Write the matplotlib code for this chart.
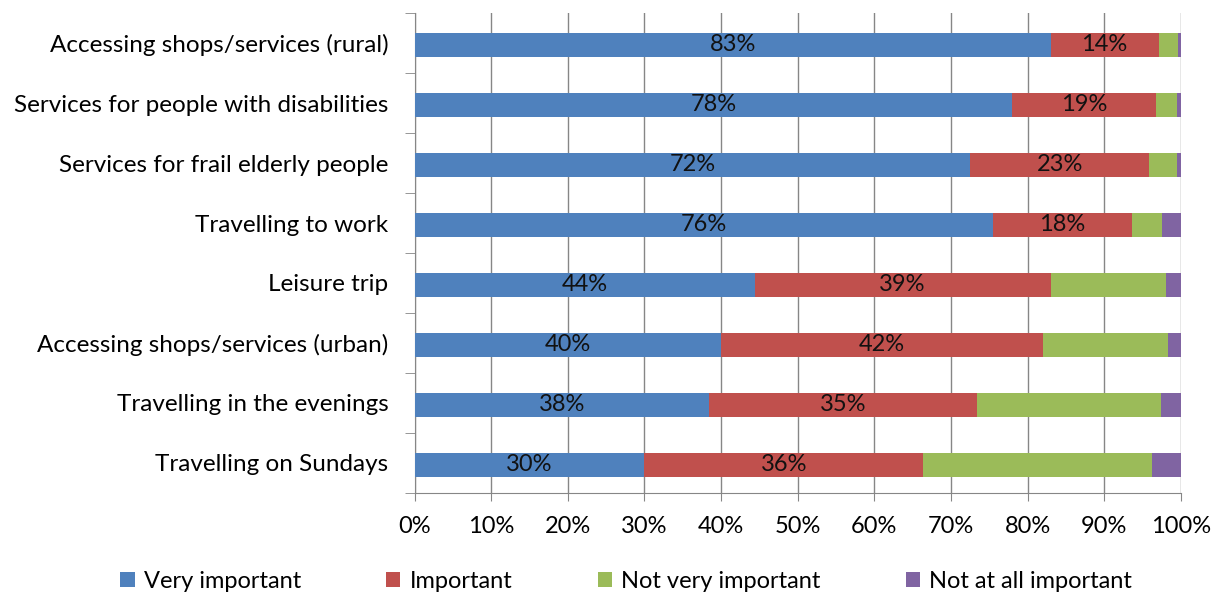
import matplotlib
matplotlib.use("Agg")
import matplotlib.pyplot as plt
import numpy as np

plt.rcParams['font.family'] = ['Lato', 'DejaVu Sans']

categories = [
    "Accessing shops/services (rural)",
    "Services for people with disabilities",
    "Services for frail elderly people",
    "Travelling to work",
    "Leisure trip",
    "Accessing shops/services (urban)",
    "Travelling in the evenings",
    "Travelling on Sundays",
]
very_important = [83.0, 78.0, 72.5, 75.5, 44.4, 40.0, 38.4, 30.0]
important = [14.1, 18.8, 23.4, 18.1, 38.6, 42.0, 35.0, 36.4]
not_very_important = [2.5, 2.7, 3.6, 4.0, 15.1, 16.3, 24.0, 29.8]
not_at_all_important = [0.4, 0.5, 0.5, 2.4, 1.9, 1.7, 2.6, 3.8]

series_names = ["Very important", "Important", "Not very important",
                "Not at all important"]
colors = ["#4F81BD", "#C0504D", "#9BBB59", "#8064A2"]
labelled = [True, True, False, False]

fig = plt.figure(figsize=(12.16, 6.01), dpi=100)
ax = fig.add_axes([0.341, 0.180, 0.630, 0.798])

series = [very_important, important, not_very_important, not_at_all_important]
y = np.arange(len(categories))
left = np.zeros(len(categories))
for name, vals, col, lab in zip(series_names, series, colors, labelled):
    vals = np.array(vals)
    bars = ax.barh(y + 0.03, vals, left=left, height=0.4, color=col,
                   label=name, zorder=3)
    if lab:
        for b, v in zip(bars, vals):
            ax.text(b.get_x() + b.get_width() / 2, b.get_y() + b.get_height() / 2,
                    f"{round(v):.0f}%", ha='center', va='center',
                    fontsize=17, color='#111111', zorder=4)
    left += vals

ax.set_xlim(0, 100)
ax.set_ylim(len(categories) - 0.5, -0.5)
ax.set_xticks(np.arange(0, 101, 10))
ax.set_xticklabels([f"{v}%" for v in range(0, 101, 10)], fontsize=17)
ax.set_yticks(y)
ax.set_yticklabels(categories, fontsize=17.5)
ax.set_yticks(np.arange(-0.5, len(categories), 1), minor=True)
ax.tick_params(axis='y', which='major', length=0, pad=19)
ax.tick_params(axis='y', which='minor', length=7, color='#868686')
ax.tick_params(axis='x', length=6, color='#868686', pad=11)
ax.grid(axis='x', color='#868686', lw=1, zorder=0)
for s in ['top', 'right']:
    ax.spines[s].set_visible(False)
for s in ['left', 'bottom']:
    ax.spines[s].set_color('#868686')

fig.legend(loc='lower center', bbox_to_anchor=(0.515, -0.02), ncol=4,
           frameon=False, fontsize=17, handlelength=0.6, handleheight=0.6,
           handletextpad=0.4, columnspacing=3.6)

fig.savefig("out.png", dpi=100)
